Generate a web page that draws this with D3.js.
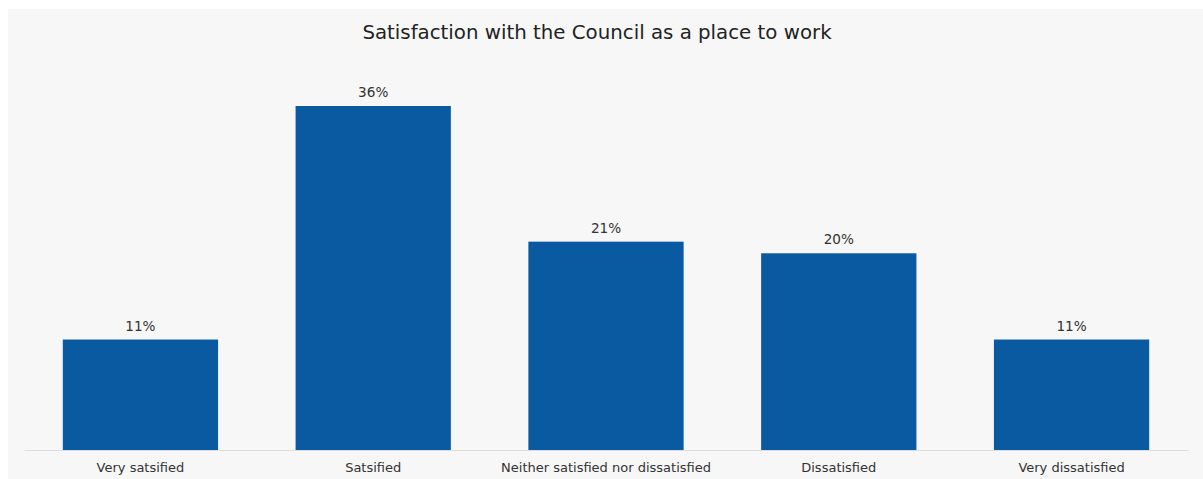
<!DOCTYPE html>
<html>
<head>
<meta charset="utf-8">
<script src="https://cdn.jsdelivr.net/npm/d3@7"></script>
<style>
  html, body { margin: 0; padding: 0; background: #fff; }
  #chart { width: 1203px; height: 479px; }
  text { font-family: "DejaVu Sans", Verdana, sans-serif; fill: #333; }
</style>
</head>
<body>
<div id="chart"></div>
<script>
// Satisfaction with the Council as a place to work

const categories = ["Very satsified", "Satsified", "Neither satisfied nor dissatisfied", "Dissatisfied", "Very dissatisfied"];
const values = [11.4, 35.5, 21.5, 20.3, 11.4];
const valueLabels = ["11%", "36%", "21%", "20%", "11%"];

const width = 1203, height = 479;
const baseline = 450;

const svg = d3.select("#chart")
    .append("svg")
    .attr("width", width)
    .attr("height", height);

// Panel background
svg.append("rect")
    .attr("x", 8)
    .attr("y", 9)
    .attr("width", width - 8)
    .attr("height", height - 9)
    .attr("fill", "#f7f7f7");

// Scales
const x = d3.scaleBand()
    .domain(categories)
    .range([24, 1188])
    .paddingInner(0.333)
    .paddingOuter(0.1667);

const y = d3.scaleLinear()
    .domain([0, d3.max(values)])
    .range([baseline, 106]);

// Title
svg.append("text")
    .attr("x", 597)
    .attr("y", 39)
    .attr("text-anchor", "middle")
    .style("font-size", "19.8px")
    .style("fill", "#222")
    .text("Satisfaction with the Council as a place to work");

// Bars
svg.selectAll("rect.bar")
    .data(values)
    .join("rect")
    .attr("class", "bar")
    .attr("x", (d, i) => x(categories[i]))
    .attr("y", d => y(d))
    .attr("width", x.bandwidth())
    .attr("height", d => baseline - y(d))
    .attr("fill", "#0a5aa2");

// Value labels
svg.selectAll("text.val")
    .data(values)
    .join("text")
    .attr("class", "val")
    .attr("x", (d, i) => x(categories[i]) + x.bandwidth() / 2)
    .attr("y", d => y(d) - 9)
    .attr("text-anchor", "middle")
    .style("font-size", "13.6px")
    .text((d, i) => valueLabels[i]);

// X axis
const xAxis = svg.append("g")
    .attr("transform", `translate(0,${baseline})`)
    .call(d3.axisBottom(x).tickSize(0).tickPadding(13));

xAxis.select(".domain").attr("stroke", "#dedede");
xAxis.selectAll(".tick text")
    .style("font-family", "'DejaVu Sans', Verdana, sans-serif")
    .style("font-size", "13px")
    .style("fill", "#333");
</script>
</body>
</html>
